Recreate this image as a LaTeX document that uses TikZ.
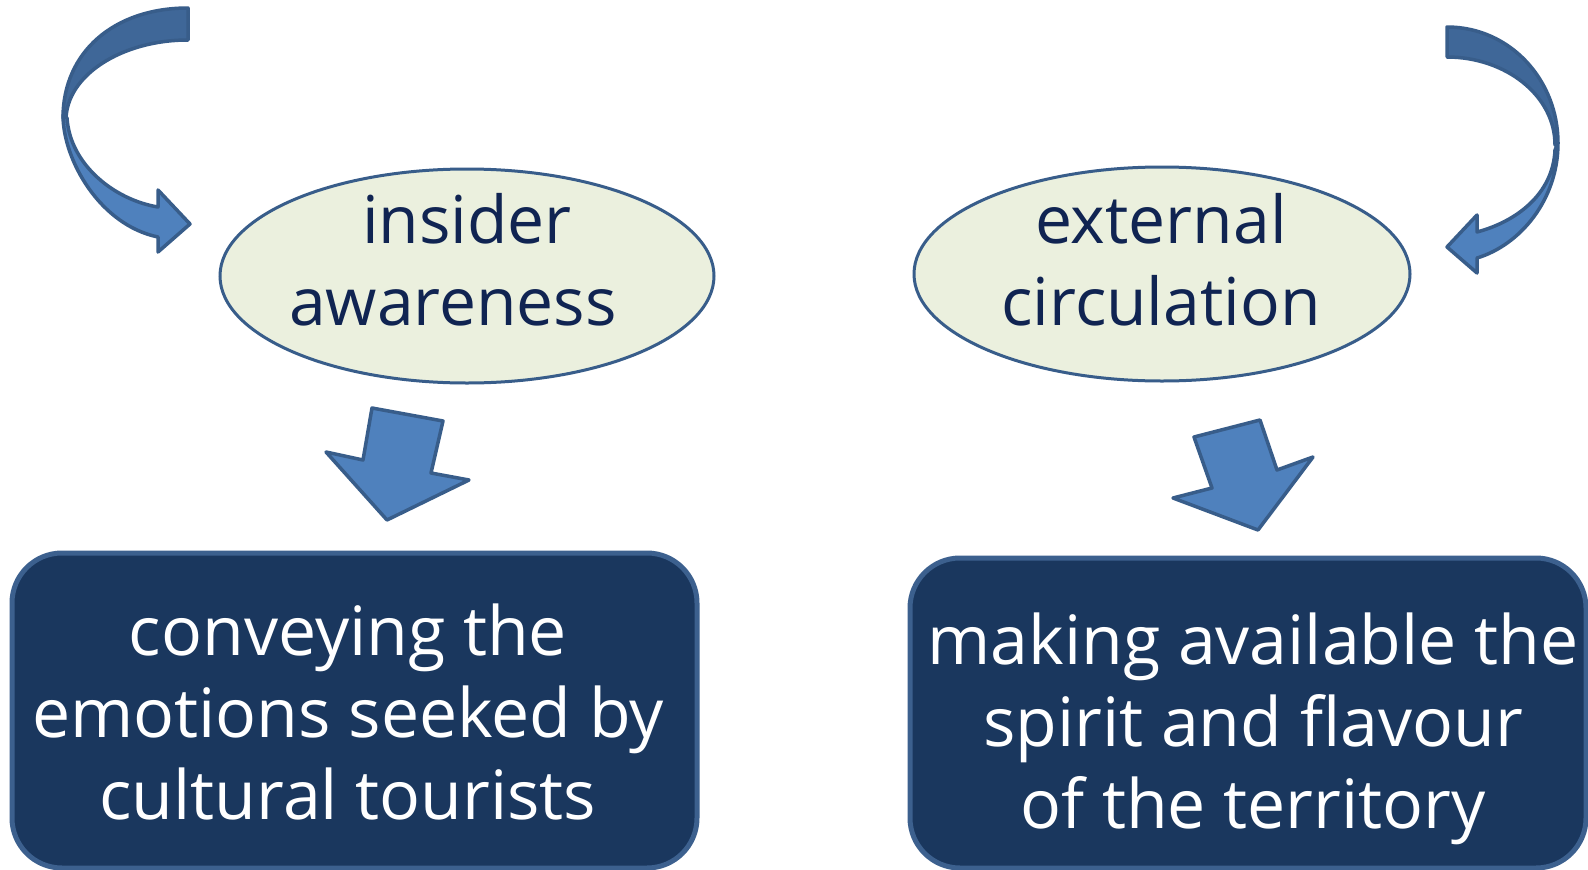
\documentclass[tikz,border=0pt]{standalone}
\usepackage{fontspec}
\setmainfont{Open Sans}
\usetikzlibrary{shapes.geometric}
\definecolor{ellfill}{RGB}{235,240,222}
\definecolor{ellline}{RGB}{56,93,138}
\definecolor{ink}{RGB}{16,36,82}
\definecolor{boxfill}{RGB}{26,55,94}
\definecolor{boxline}{RGB}{60,96,142}
\definecolor{arrfill}{RGB}{79,129,189}
\definecolor{arrback}{RGB}{63,103,152}
\definecolor{arrline}{RGB}{56,93,138}
\tikzset{
  ell/.style={ellipse, draw=ellline, line width=3pt, fill=ellfill, inner sep=0pt},
  blk/.style={draw=boxline, line width=5pt, fill=boxfill, rounded corners=50pt},
  ttext/.style={align=center, text=ink, font=\fontsize{66}{82}\selectfont, inner sep=0pt, anchor=base},
  btext/.style={align=center, text=white, font=\fontsize{68}{82}\selectfont, inner sep=0pt},
  arr/.style={draw=arrline, line width=3.5pt, fill=arrfill, line join=round},
  arrb/.style={draw=arrline, line width=3.5pt, fill=arrback, line join=round},
}
\begin{document}
\begin{tikzpicture}[x=1pt,y=-1pt]
\useasboundingbox[fill=white] (0,0) rectangle (1588,870);
% ellipses
\node[ell, minimum width=494pt, minimum height=214pt] (e1) at (467,276) {};
\node[ell, minimum width=496pt, minimum height=214pt] (e2) at (1162,274) {};
\node[ttext] (t1a) at (467,243) {insider};
\node[ttext] (t1b) at (453,325) {awareness};
\node[ttext] (t2a) at (1161,243) {external};
\node[ttext] (t2b) at (1161,325) {circulation};
% boxes
\draw[blk] (12,553) rectangle (697,868);
\node[btext] (b1) at (348,712) {conveying the\\emotions seeked by\\cultural tourists};
\draw[blk] (910,558) rectangle (1586,868);
\node[btext] (b2) at (1253,729) {making available the\\spirit and flavour\\of the territory};
% down arrows
\draw[arr] (372,408) -- (443,421) -- (431,473) -- (469,480) -- (387,520) -- (326,452) -- (363,460) -- cycle;
\draw[arr] (1194,437) -- (1260,420) -- (1277,470) -- (1313,457) -- (1258,530) -- (1173,498) -- (1212,488) -- cycle;
% left curved arrow
\draw[arrb] (188,8) .. controls (114,8) and (63,52) .. (63,118)
  -- (66,120) .. controls (66,76) and (121,40) .. (188,40) -- cycle;
\draw[arr] (63,115) .. controls (63,160) and (100,225) .. (158,237)
  -- (158,252) -- (190,224) -- (158,190) -- (158,207)
  .. controls (115,200) and (70,165) .. (67,118) -- cycle;
% right curved arrow
\draw[arrb] (1447,27) .. controls (1510,27) and (1558,80) .. (1558,143)
  -- (1555,145) .. controls (1555,95) and (1505,57) .. (1447,57) -- cycle;
\draw[arr] (1558,143) .. controls (1558,200) and (1520,245) .. (1477,258)
  -- (1477,273) -- (1447,247) -- (1477,215) -- (1477,232)
  .. controls (1515,222) and (1553,195) .. (1555,150) -- cycle;
\end{tikzpicture}
\end{document}
